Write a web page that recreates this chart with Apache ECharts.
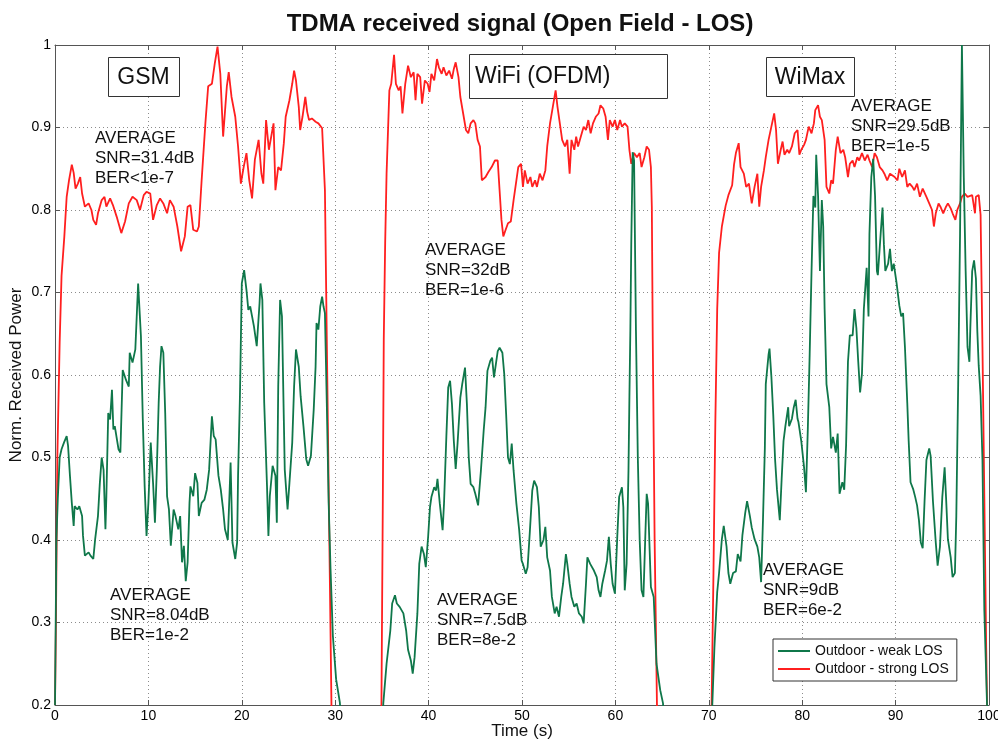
<!DOCTYPE html>
<html><head><meta charset="utf-8">
<script src="https://cdn.jsdelivr.net/npm/echarts/dist/echarts.min.js"></script>
<style>html,body{margin:0;padding:0;background:#fff}#c{width:998px;height:742px}</style>
</head><body><div id="c"></div>
<script>
// ---- Data ----
const strongTime = [
0,0.1,0.25,0.5,0.7,1.0,1.25,1.5,1.8,2.0,2.2,2.45,2.7,2.9,3.2,3.6,3.9,4.1,4.4,4.6,5.0,5.3,5.5,5.9,6.2,6.6,7.1,7.5,7.9,8.3,8.75,9.1,9.5,9.8,10.2,10.5,10.9,11.25,11.6,12.0,12.3,12.7,13.1,13.5,13.9,14.2,14.5,14.8,15.2,15.4,15.7,16.1,16.4,16.8,17.1,17.4,17.7,18.0,18.4,18.6,18.9,19.3,19.6,19.9,20.2,20.5,20.8,21.1,21.4,21.8,22.1,22.3,22.6,22.9,23.1,23.4,23.6,23.9,24.2,24.5,24.7,25.1,25.4,25.6,25.8,26.1,26.25,26.5,26.8,27.0,27.2,27.5,27.9,28.2,28.6,28.8,28.9,29.1,29.35,29.6,29.8,
34.8,34.95,35.1,35.2,35.35,35.5,35.8,36.0,36.3,36.5,36.8,37.0,37.2,37.5,37.8,38.1,38.4,38.6,38.8,39.1,39.3,39.6,39.9,40.1,40.3,40.6,40.9,41.1,41.4,41.6,41.9,42.2,42.5,42.7,42.9,43.2,43.4,43.7,44.0,44.25,44.5,44.8,45.0,45.25,45.5,45.7,45.9,46.1,46.4,46.75,47.1,47.4,47.6,47.8,48.0,48.25,48.5,48.8,49.1,49.4,49.6,49.9,50.1,50.3,50.6,50.9,51.1,51.4,51.6,51.9,52.2,52.5,52.7,53.0,53.3,53.6,53.8,54.1,54.3,54.6,54.85,55.1,55.3,55.6,55.8,56.0,56.3,56.6,56.85,57.1,57.35,57.6,57.9,58.2,58.4,58.7,58.95,59.2,59.4,59.7,59.95,60.2,60.5,60.7,61.0,61.3,61.5,61.7,62.0,62.3,62.6,62.8,63.1,63.35,63.6,63.8,63.9,64.0,64.2,64.45,64.6,
70.2,70.3,70.5,70.7,70.9,71.1,71.4,71.8,72.1,72.5,72.7,72.9,73.2,73.4,73.75,74.0,74.3,74.5,74.6,74.9,75.2,75.4,75.6,75.9,76.1,76.4,76.7,77.0,77.2,77.4,77.7,77.9,78.1,78.4,78.6,78.9,79.2,79.5,79.7,79.9,80.2,80.4,80.7,81.0,81.25,81.4,81.7,81.9,82.1,82.4,82.6,82.9,83.1,83.3,83.6,83.8,84.1,84.4,84.6,84.9,85.1,85.4,85.6,85.9,86.1,86.4,86.7,87.0,87.2,87.5,87.75,88.0,88.3,88.6,88.8,89.1,89.4,89.6,89.9,90.2,90.4,90.7,91.0,91.25,91.5,91.8,92.0,92.3,92.6,92.9,93.1,93.3,93.6,93.9,94.1,94.3,94.6,94.8,95.1,95.4,95.6,95.9,96.1,96.4,96.6,96.9,97.1,97.4,97.7,97.9,98.2,98.5,98.6,98.9,99.1,99.3,99.5,99.7,99.8,100
];
const strongPower = [
0.2,0.3,0.5,0.64,0.72,0.768,0.816,0.836,0.855,0.845,0.826,0.832,0.84,0.82,0.804,0.808,0.80,0.788,0.782,0.796,0.812,0.816,0.804,0.814,0.806,0.792,0.772,0.786,0.808,0.816,0.812,0.80,0.818,0.822,0.82,0.788,0.806,0.814,0.808,0.796,0.812,0.804,0.78,0.75,0.768,0.804,0.806,0.776,0.774,0.78,0.836,0.905,0.95,0.953,0.977,0.998,0.965,0.889,0.95,0.967,0.937,0.913,0.877,0.832,0.852,0.869,0.836,0.814,0.861,0.885,0.844,0.832,0.909,0.873,0.873,0.905,0.824,0.852,0.848,0.881,0.913,0.933,0.953,0.969,0.957,0.925,0.897,0.913,0.937,0.919,0.909,0.911,0.907,0.905,0.899,0.899,0.824,0.643,0.42,0.2,0.1,
0.1,0.2,0.45,0.643,0.76,0.844,0.945,0.953,0.988,0.953,0.945,0.95,0.917,0.953,0.975,0.961,0.967,0.933,0.965,0.961,0.929,0.957,0.953,0.943,0.965,0.957,0.983,0.973,0.965,0.973,0.963,0.969,0.959,0.971,0.979,0.961,0.937,0.917,0.897,0.893,0.905,0.909,0.905,0.885,0.877,0.836,0.834,0.84,0.846,0.852,0.86,0.86,0.824,0.788,0.768,0.776,0.784,0.786,0.812,0.836,0.852,0.856,0.828,0.848,0.832,0.84,0.828,0.836,0.828,0.844,0.836,0.848,0.877,0.905,0.925,0.945,0.925,0.901,0.885,0.877,0.885,0.844,0.885,0.873,0.889,0.877,0.889,0.901,0.897,0.909,0.893,0.905,0.913,0.917,0.927,0.923,0.913,0.885,0.909,0.901,0.909,0.897,0.909,0.901,0.905,0.901,0.873,0.856,0.869,0.864,0.869,0.852,0.864,0.877,0.873,0.852,0.804,0.643,0.4,0.2,0.1,
0.1,0.2,0.36,0.543,0.68,0.748,0.78,0.805,0.818,0.83,0.855,0.869,0.881,0.852,0.844,0.828,0.832,0.816,0.808,0.828,0.844,0.804,0.828,0.848,0.864,0.885,0.901,0.917,0.897,0.856,0.873,0.883,0.867,0.873,0.869,0.877,0.893,0.897,0.867,0.873,0.879,0.885,0.901,0.893,0.905,0.921,0.927,0.913,0.909,0.885,0.828,0.82,0.836,0.832,0.873,0.889,0.869,0.873,0.864,0.84,0.856,0.86,0.852,0.864,0.86,0.869,0.86,0.867,0.86,0.852,0.869,0.864,0.852,0.848,0.844,0.836,0.844,0.844,0.84,0.836,0.85,0.84,0.848,0.828,0.832,0.828,0.824,0.832,0.816,0.826,0.828,0.816,0.808,0.80,0.78,0.796,0.808,0.804,0.796,0.804,0.808,0.802,0.796,0.788,0.80,0.808,0.816,0.82,0.816,0.816,0.818,0.796,0.816,0.818,0.794,0.634,0.452,0.269,0.196,0.1
];
const weakTime = [
0,0.15,0.3,0.5,0.7,0.96,1.25,1.4,1.6,1.8,2.0,2.1,2.4,2.6,2.9,3.0,3.2,3.6,3.8,4.1,4.3,4.6,4.8,5.0,5.2,5.4,5.5,5.7,5.9,6.1,6.25,6.4,6.8,7.0,7.25,7.6,7.9,8.0,8.3,8.6,8.75,8.9,9.2,9.4,9.6,9.8,10.0,10.25,10.5,10.7,10.9,11.1,11.25,11.4,11.6,11.8,12.0,12.2,12.4,12.7,12.9,13.2,13.4,13.6,13.8,14.0,14.2,14.4,14.5,14.8,15.0,15.25,15.4,15.7,16.0,16.25,16.5,16.8,17.0,17.2,17.5,17.75,18.0,18.2,18.5,18.7,18.8,19.0,19.3,19.5,19.6,19.8,20.0,20.25,20.5,20.7,20.9,21.1,21.3,21.6,21.9,22.0,22.2,22.4,22.7,22.85,23.0,23.3,23.6,23.75,23.9,24.1,24.3,24.5,24.6,24.9,25.1,25.4,25.6,25.8,26.1,26.3,26.6,26.9,27.1,27.4,27.7,27.9,28.0,28.2,28.4,28.6,28.75,28.9,29.1,29.3,29.5,29.75,30.1,30.5,30.8,
35.0,35.15,35.5,35.9,36.1,36.4,36.6,36.9,37.3,37.6,37.8,38.1,38.3,38.5,38.8,39.0,39.25,39.5,39.7,39.95,40.15,40.3,40.6,40.8,40.95,41.2,41.5,41.65,41.9,42.1,42.3,42.5,42.7,42.9,43.1,43.4,43.6,43.9,44.1,44.3,44.5,44.8,45.0,45.3,45.6,45.9,46.1,46.3,46.6,46.8,47.0,47.2,47.4,47.6,47.9,48.1,48.3,48.5,48.7,48.9,49.1,49.4,49.7,49.96,50.1,50.4,50.6,50.85,51.1,51.3,51.6,51.8,52.0,52.3,52.5,52.7,53.0,53.2,53.5,53.7,53.96,54.2,54.4,54.7,54.85,55.1,55.3,55.6,55.85,56.1,56.4,56.6,56.85,57.0,57.3,57.5,57.7,58.0,58.2,58.4,58.6,58.9,59.1,59.3,59.5,59.7,59.95,60.2,60.4,60.7,60.85,61.0,61.2,61.4,61.5,61.6,61.7,61.85,62.0,62.2,62.4,62.6,62.8,63.0,63.2,63.35,63.5,63.8,64.1,64.4,64.8,65.1,65.3,
70.2,70.36,70.6,70.9,71.1,71.4,71.6,71.9,72.1,72.3,72.6,72.9,73.1,73.4,73.6,73.9,74.1,74.4,74.6,74.9,75.2,75.4,75.6,75.8,76.0,76.1,76.4,76.5,76.7,76.9,77.1,77.3,77.6,77.8,78.0,78.2,78.5,78.6,78.9,79.1,79.3,79.5,79.6,79.9,80.2,80.4,80.6,80.8,81.0,81.2,81.4,81.5,81.7,81.9,82.1,82.25,82.4,82.6,82.75,82.9,83.1,83.3,83.6,83.8,84.0,84.3,84.5,84.7,84.9,85.1,85.4,85.6,85.8,86.0,86.2,86.4,86.6,86.9,87.1,87.2,87.4,87.6,87.8,88.0,88.1,88.4,88.6,88.75,88.9,89.2,89.4,89.6,89.8,90.1,90.4,90.6,90.8,91.0,91.25,91.4,91.6,91.9,92.1,92.3,92.5,92.7,92.9,93.1,93.3,93.6,93.75,94.0,94.3,94.5,94.75,95.0,95.25,95.4,95.6,95.9,96.1,96.35,96.5,96.7,96.9,97.1,97.3,97.5,97.7,97.9,98.0,98.2,98.4,98.6,98.75,98.9,99.1,99.3,99.5,99.8,100
];
const weakPower = [
0.2,0.4,0.45,0.5,0.51,0.518,0.526,0.514,0.478,0.445,0.417,0.441,0.437,0.441,0.429,0.405,0.381,0.385,0.381,0.377,0.401,0.429,0.469,0.5,0.485,0.413,0.453,0.554,0.546,0.582,0.534,0.538,0.51,0.506,0.606,0.594,0.586,0.627,0.615,0.631,0.671,0.711,0.647,0.546,0.465,0.405,0.445,0.518,0.469,0.421,0.485,0.566,0.61,0.635,0.627,0.554,0.453,0.437,0.393,0.437,0.429,0.413,0.429,0.373,0.393,0.35,0.373,0.445,0.465,0.453,0.481,0.469,0.429,0.445,0.449,0.461,0.485,0.55,0.526,0.522,0.478,0.461,0.437,0.413,0.4,0.461,0.494,0.397,0.377,0.397,0.478,0.574,0.711,0.727,0.703,0.679,0.683,0.671,0.659,0.635,0.687,0.711,0.691,0.566,0.465,0.405,0.453,0.49,0.478,0.421,0.586,0.691,0.671,0.546,0.485,0.437,0.469,0.518,0.586,0.631,0.61,0.574,0.538,0.498,0.49,0.502,0.558,0.61,0.663,0.655,0.683,0.695,0.683,0.675,0.566,0.445,0.365,0.284,0.231,0.203,0.15,
0.15,0.202,0.25,0.29,0.323,0.333,0.323,0.319,0.311,0.29,0.267,0.254,0.238,0.258,0.311,0.371,0.392,0.383,0.367,0.404,0.44,0.452,0.464,0.46,0.474,0.444,0.412,0.444,0.525,0.585,0.593,0.565,0.52,0.486,0.517,0.573,0.589,0.609,0.565,0.5,0.468,0.464,0.456,0.442,0.484,0.533,0.561,0.605,0.617,0.621,0.597,0.613,0.629,0.633,0.627,0.601,0.553,0.5,0.492,0.517,0.484,0.444,0.412,0.375,0.371,0.359,0.367,0.412,0.46,0.472,0.464,0.44,0.392,0.4,0.416,0.379,0.363,0.331,0.311,0.319,0.307,0.331,0.347,0.383,0.371,0.347,0.331,0.319,0.323,0.311,0.307,0.299,0.347,0.379,0.371,0.371,0.363,0.355,0.339,0.331,0.347,0.363,0.375,0.404,0.371,0.347,0.335,0.404,0.452,0.464,0.44,0.339,0.371,0.484,0.573,0.654,0.76,0.87,0.86,0.654,0.5,0.4,0.339,0.331,0.404,0.456,0.444,0.343,0.331,0.25,0.218,0.202,0.15,
0.15,0.196,0.269,0.337,0.36,0.401,0.417,0.392,0.36,0.347,0.36,0.362,0.383,0.374,0.406,0.433,0.447,0.429,0.415,0.401,0.392,0.379,0.349,0.424,0.511,0.589,0.625,0.632,0.598,0.552,0.497,0.461,0.424,0.474,0.52,0.538,0.561,0.538,0.547,0.561,0.57,0.547,0.543,0.52,0.488,0.458,0.534,0.625,0.726,0.817,0.803,0.867,0.817,0.726,0.812,0.78,0.68,0.589,0.589,0.561,0.511,0.525,0.506,0.529,0.456,0.47,0.461,0.515,0.616,0.648,0.648,0.68,0.657,0.616,0.579,0.602,0.68,0.73,0.671,0.771,0.84,0.862,0.817,0.726,0.721,0.771,0.803,0.758,0.726,0.735,0.753,0.726,0.735,0.712,0.684,0.671,0.675,0.634,0.566,0.52,0.47,0.461,0.452,0.442,0.424,0.397,0.39,0.447,0.497,0.511,0.502,0.447,0.397,0.369,0.392,0.452,0.488,0.452,0.401,0.379,0.355,0.36,0.429,0.589,0.771,1.0,0.84,0.726,0.634,0.616,0.657,0.726,0.739,0.717,0.653,0.611,0.575,0.497,0.315,0.196,0.15
];
const seriesNames = ['Outdoor - weak LOS', 'Outdoor - strong LOS'];
const technologyLabels = ['GSM', 'WiFi (OFDM)', 'WiMax'];
const strongNotes = ['AVERAGE\nSNR=31.4dB\nBER<1e-7', 'AVERAGE\nSNR=32dB\nBER=1e-6', 'AVERAGE\nSNR=29.5dB\nBER=1e-5'];
const weakNotes = ['AVERAGE\nSNR=8.04dB\nBER=1e-2', 'AVERAGE\nSNR=7.5dB\nBER=8e-2', 'AVERAGE\nSNR=9dB\nBER=6e-2'];
const xRange = [0, 100, 10];
const yRange = [0.2, 1, 0.1];

// ---- Chart ----
const FONT = '"Liberation Sans", Arial, Helvetica, sans-serif';
const RED = '#ff1f1f', GREEN = '#0f774a', FRAME = '#555';
const strongData = strongTime.map((t, i) => [t, strongPower[i]]);
const weakData = weakTime.map((t, i) => [t, weakPower[i]]);
const chart = echarts.init(document.getElementById('c'), null, {renderer: 'canvas'});

function axisBase() {
  return {
    axisLine: {show: true, onZero: false, lineStyle: {color: FRAME, width: 1}},
    axisTick: {show: true, inside: true, length: 5, lineStyle: {color: FRAME, width: 1}},
  };
}
const xAxisMain = Object.assign(axisBase(), {
  type: 'value', position: 'bottom', min: xRange[0], max: xRange[1], interval: xRange[2],
  axisLabel: {show: true, fontSize: 14, color: '#000', fontFamily: FONT, margin: 4, showMinLabel: true, showMaxLabel: true},
  splitLine: {show: true, lineStyle: {type: [1, 3], color: '#8c8c8c', width: 1}},
  name: 'Time (s)', nameLocation: 'middle', nameGap: 18, nameMoveOverlap: false,
  nameTextStyle: {fontSize: 17, color: '#111', fontFamily: FONT}
});
const xAxisTop = Object.assign(axisBase(), {
  type: 'value', position: 'top', min: xRange[0], max: xRange[1], interval: xRange[2],
  axisLabel: {show: false}, splitLine: {show: false}
});
const yAxisMain = Object.assign(axisBase(), {
  type: 'value', position: 'left', min: yRange[0], max: yRange[1], interval: yRange[2],
  axisLabel: {show: true, fontSize: 14, color: '#000', fontFamily: FONT, margin: 4,
    formatter: v => String(Math.round(v * 10) / 10)},
  splitLine: {show: true, lineStyle: {type: [1, 3], color: '#8c8c8c', width: 1}},
  name: 'Norm. Received Power', nameLocation: 'middle', nameGap: 30, nameMoveOverlap: false,
  nameTextStyle: {fontSize: 17, color: '#111', fontFamily: FONT}
});
const yAxisRight = Object.assign(axisBase(), {
  type: 'value', position: 'right', min: yRange[0], max: yRange[1], interval: yRange[2],
  axisLabel: {show: false}, splitLine: {show: false}
});

function noteText(x, y, txt) {
  return {type: 'text', x: x, y: y, z: 10,
    style: {text: txt, fill: '#111', fontSize: 17, fontFamily: FONT, lineHeight: 20, verticalAlign: 'top', align: 'left'}};
}
function boxed(x, y, w, h, txt, tx, align) {
  return [
    {type: 'rect', z: 1, shape: {x: x + 0.5, y: y + 0.5, width: w, height: h},
      style: {fill: '#fff', stroke: '#333', lineWidth: 1}},
    {type: 'text', z: 10, x: tx, y: y + h / 2 + 1,
      style: {text: txt, fill: '#111', fontSize: 23, fontFamily: FONT, verticalAlign: 'middle', align: align}}
  ];
}

const graphics = [].concat(
  [{type: 'text', x: 520, y: 24, z: 10,
    style: {text: 'TDMA received signal (Open Field - LOS)', fill: '#111', fontSize: 24, fontWeight: 'bold',
      fontFamily: FONT, align: 'center', verticalAlign: 'middle'}}],
  boxed(108, 57, 71, 39, technologyLabels[0], 143.5, 'center'),
  boxed(469, 54, 198, 44, technologyLabels[1], 475, 'left'),
  boxed(766, 57, 88, 39, technologyLabels[2], 810, 'center'),
  [noteText(95, 128, strongNotes[0]), noteText(425, 240, strongNotes[1]), noteText(851, 96, strongNotes[2]),
   noteText(110, 585, weakNotes[0]), noteText(437, 590, weakNotes[1]), noteText(763, 560, weakNotes[2])]
);

chart.setOption({
  animation: false,
  backgroundColor: '#fff',
  grid: {left: 55, right: 9, top: 45, bottom: 37, containLabel: false, outerBoundsMode: 'none', show: false},
  xAxis: [xAxisMain, xAxisTop],
  yAxis: [yAxisMain, yAxisRight],
  legend: {
    data: seriesNames, orient: 'vertical', left: 773, top: 639,
    icon: 'rect', itemWidth: 32, itemHeight: 2, itemGap: 2,
    padding: [4, 8, 4, 5], borderColor: '#333', borderWidth: 1, backgroundColor: '#fff',
    textStyle: {fontSize: 14, color: '#111', fontFamily: FONT, lineHeight: 16}
  },
  graphic: graphics,
  series: [
    {name: seriesNames[1], type: 'line', data: strongData, symbol: 'none', showSymbol: false, clip: true, z: 3,
      lineStyle: {color: RED, width: 1.8}, itemStyle: {color: RED}},
    {name: seriesNames[0], type: 'line', data: weakData, symbol: 'none', showSymbol: false, clip: true, z: 4,
      lineStyle: {color: GREEN, width: 1.8}, itemStyle: {color: GREEN}}
  ]
});
</script></body></html>
